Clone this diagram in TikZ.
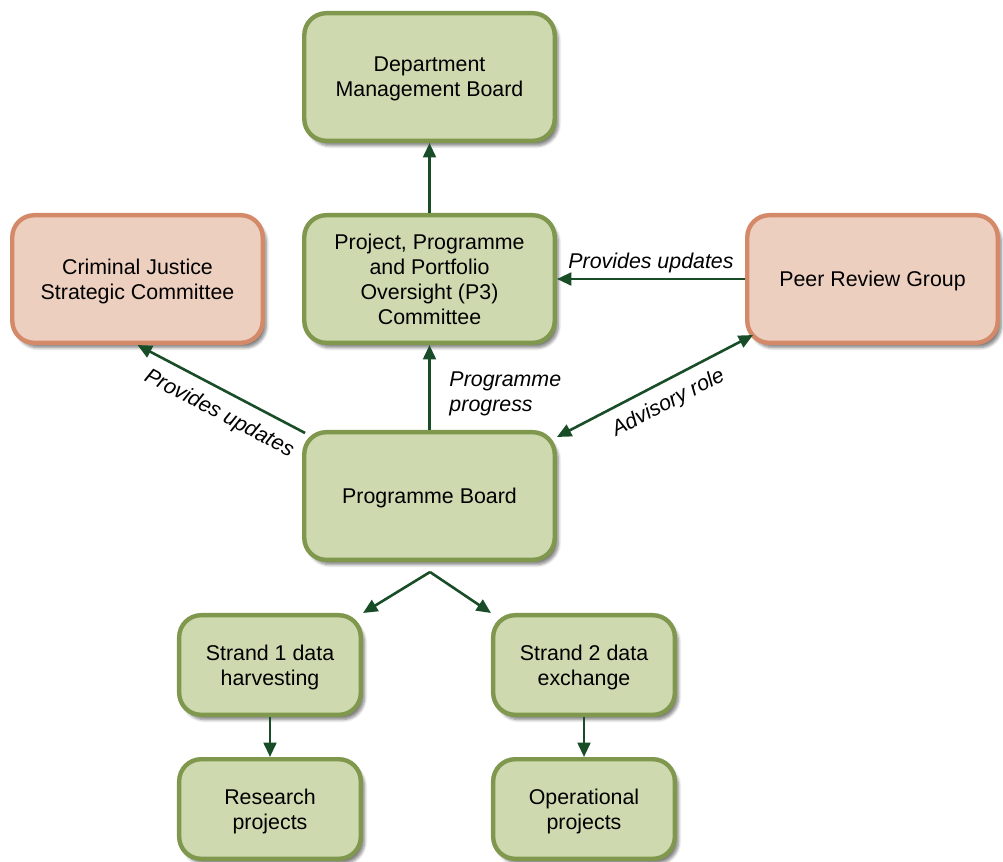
\documentclass[tikz,border=0pt]{standalone}
\usepackage{fontspec}
\setmainfont{Liberation Sans}
\usetikzlibrary{arrows.meta,shadows.blur}
\definecolor{boxGreen}{RGB}{207,217,176}
\definecolor{lineGreen}{RGB}{128,152,78}
\definecolor{boxPink}{RGB}{237,207,192}
\definecolor{linePink}{RGB}{212,138,105}
\definecolor{arrowGreen}{RGB}{24,77,39}
\begin{document}
\begin{tikzpicture}[x=0.025cm,y=-0.025cm,
	font=\fontsize{15.2}{17.7}\selectfont,
	board/.style={shape=rectangle,rounded corners=0.55cm,line width=0.11cm,align=center,text depth=0pt,
		blur shadow={shadow xshift=0.09cm,shadow yshift=-0.12cm,shadow opacity=50,shadow blur steps=6}},
	greenbox/.style={board,draw=lineGreen,fill=boxGreen},
	pinkbox/.style={board,draw=linePink,fill=boxPink},
	widebox/.style={minimum width=6.26cm,minimum height=3.19cm},
	smallbox/.style={minimum width=4.54cm,minimum height=2.49cm},
	link/.style={draw=arrowGreen,line width=0.065cm,-{Triangle[length=0.36cm,width=0.32cm]}},
	twolink/.style={link,{Triangle[length=0.36cm,width=0.32cm]}-{Triangle[length=0.36cm,width=0.32cm]}},
	note/.style={font=\fontsize{15.2}{17.7}\selectfont\itshape}]
	\useasboundingbox (0,0) rectangle (1003,861);

	\node (deptNode) at (429.5,77)[greenbox,widebox] {Department\\Management Board};
	\node (oversightNode) at (429.5,279)[greenbox,widebox] {Project, Programme\\and Portfolio\\Oversight (P3)\\Committee};
	\node (cjscNode) at (137.5,279)[pinkbox,widebox] {Criminal Justice\\Strategic Committee};
	\node (peerNode) at (872.5,279)[pinkbox,widebox] {Peer Review Group};
	\node (boardNode) at (429.5,496)[greenbox,widebox] {Programme Board};
	\node (strandOneNode) at (270,665)[greenbox,smallbox] {Strand 1 data\\harvesting};
	\node (strandTwoNode) at (584,665)[greenbox,smallbox] {Strand 2 data\\exchange};
	\node (researchNode) at (270,809)[greenbox,smallbox] {Research\\projects};
	\node (operationalNode) at (584,809)[greenbox,smallbox] {Operational\\projects};
	\coordinate (forkPoint) at (430,572);

	\draw[link] (oversightNode.north) -- (deptNode.south);
	\draw[link] (boardNode.north) -- node[note,right,align=left,xshift=0.35cm,yshift=-0.15cm] {Programme\\progress} (oversightNode.south);
	\draw[link] (peerNode.west) -- node[note,above] {Provides updates} (oversightNode.east);
	\draw[link] ([xshift=0.075cm,yshift=-0.075cm]boardNode.north west) -- node[note,sloped,below=5pt,pos=0.45] {Provides updates} (cjscNode.south);
	\draw[twolink] ([yshift=-0.175cm]boardNode.north east) -- node[note,sloped,below=4pt,xshift=0.1cm] {Advisory role} ([xshift=0.2cm,yshift=0.25cm]peerNode.south west);
	\draw[link] (forkPoint) -- (strandOneNode.north east);
	\draw[link] (forkPoint) -- (strandTwoNode.north west);
	\draw[link] (strandOneNode.south) -- (researchNode.north);
	\draw[link] (strandTwoNode.south) -- (operationalNode.north);
\end{tikzpicture}
\end{document}
